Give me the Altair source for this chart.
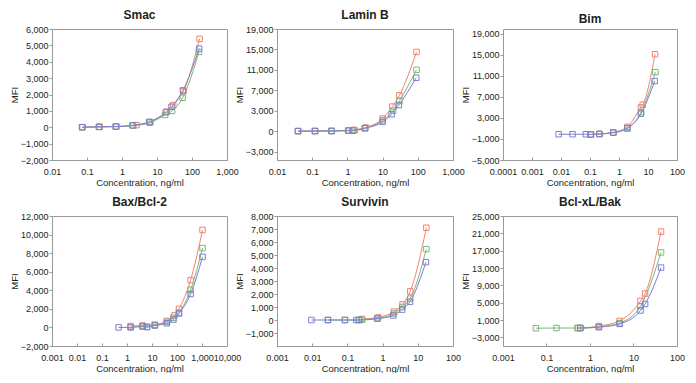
import json
import altair as alt
import pandas as pd

SERIES = ["lot1", "lot2", "lot3"]
COLORS = ["#F2826F", "#79B879", "#7D7DD4"]
FONT = "Liberation Sans"
TXT = "#231F20"
GRAY = "#9A9A9A"

# ---------------- Smac ----------------
smac_conc_red = [0.075, 0.23, 0.7, 2.6, 6.5, 19, 29, 57, 165]
smac_mfi_red = [10, 20, 50, 130, 310, 950, 1350, 2200, 5400]
smac_conc_green = [0.072, 0.22, 0.66, 2.1, 6.2, 17, 27, 54, 158]
smac_mfi_green = [0, 20, 40, 100, 280, 750, 1000, 1800, 4600]
smac_conc_blue = [0.073, 0.22, 0.66, 2.0, 6.0, 18, 26, 55, 160]
smac_mfi_blue = [0, 30, 40, 120, 330, 920, 1250, 2250, 4800]
smac_x_ticks = [0.01, 0.1, 1, 10, 100, 1000]
smac_x_labels = ["0.01", "0.1", "1", "10", "100", "1,000"]
smac_y_ticks = [-2000, -1000, 0, 1000, 2000, 3000, 4000, 5000, 6000]
smac_y_labels = ["\u22122,000", "\u22121,000", "0", "1,000", "2,000", "3,000", "4,000", "5,000", "6,000"]

# ---------------- Lamin B ----------------
lamin_conc_red = [0.04, 0.12, 0.36, 1.1, 1.5, 3.3, 10, 19, 30, 92]
lamin_mfi_red = [-1000, -990, -970, -880, -760, -300, 1450, 3800, 6000, 14500]
lamin_conc_green = [0.04, 0.12, 0.36, 1.1, 1.6, 3.2, 10, 20, 30, 92]
lamin_mfi_green = [-1000, -990, -975, -900, -850, -420, 1100, 3000, 4900, 11000]
lamin_conc_blue = [0.039, 0.12, 0.35, 1.05, 1.4, 3.1, 10, 18, 29, 90]
lamin_mfi_blue = [-1000, -985, -975, -900, -900, -450, 800, 2300, 4100, 9450]
lamin_x_ticks = [0.01, 0.1, 1, 10, 100, 1000]
lamin_x_labels = ["0.01", "0.1", "1", "10", "100", "1,000"]
lamin_y_ticks = [-5000, -1000, 3000, 7000, 11000, 15000, 19000]
lamin_y_labels = ["\u22123,000", "0", "3,000", "7,000", "11,000", "15,000", "19,000"]

# ---------------- Bim ----------------
bim_conc_red = [0.11, 0.21, 0.63, 1.95, 5.7, 6.6, 17.5]
bim_mfi_red = [-150, -50, 250, 1300, 5000, 5500, 15100]
bim_conc_green = [0.105, 0.21, 0.64, 1.95, 5.8, 18]
bim_mfi_green = [-150, -50, 200, 1050, 4100, 11700]
bim_conc_blue = [0.0083, 0.025, 0.072, 0.105, 0.21, 0.64, 1.95, 5.7, 17]
bim_mfi_blue = [-100, -100, -100, -150, -50, 200, 1000, 3800, 10000]
bim_x_ticks = [0.0001, 0.001, 0.01, 0.1, 1, 10, 100]
bim_x_labels = ["0.0001", "0.001", "0.01", "0.1", "1", "10", "100"]
bim_y_ticks = [-5000, -1000, 3000, 7000, 11000, 15000, 19000]
bim_y_labels = ["\u22125,000", "\u22121,000", "3,000", "7,000", "11,000", "15,000", "19,000"]

# ---------------- Bax/Bcl-2 ----------------
bax_conc_red = [1.4, 4.2, 13, 39, 80, 120, 350, 1050]
bax_mfi_red = [150, 200, 300, 700, 1300, 2000, 5100, 10500]
bax_conc_green = [1.4, 4.3, 6.3, 13, 40, 72, 120, 350, 1050]
bax_mfi_green = [50, 100, 50, 250, 600, 1050, 1600, 4050, 8550]
bax_conc_blue = [0.46, 1.4, 4.2, 6.3, 13, 39, 72, 120, 350, 1050]
bax_mfi_blue = [0, 0, 100, 50, 200, 450, 850, 1500, 3600, 7600]
bax_x_ticks = [0.001, 0.01, 0.1, 1, 10, 100, 1000, 10000]
bax_x_labels = ["0.001", "0.01", "0.1", "1", "10", "100", "1,000", "10,000"]
bax_y_ticks = [-2000, 0, 2000, 4000, 6000, 8000, 10000, 12000]
bax_y_labels = ["\u22122,000", "0", "2,000", "4,000", "6,000", "8,000", "10,000", "12,000"]

# ---------------- Survivin ----------------
surv_conc_red = [0.26, 0.75, 2.1, 3.7, 6.1, 17.5]
surv_mfi_red = [80, 200, 650, 1200, 2200, 7100]
surv_conc_green = [0.028, 0.085, 0.22, 0.26, 0.72, 2.1, 3.6, 6.1, 17.5]
surv_mfi_green = [0, 0, 0, 20, 120, 500, 1000, 1650, 5450]
surv_conc_blue = [0.0095, 0.028, 0.085, 0.18, 0.21, 0.7, 2.0, 3.6, 6.0, 17]
surv_mfi_blue = [0, 0, 0, 0, 0, 100, 350, 800, 1400, 4450]
surv_x_ticks = [0.001, 0.01, 0.1, 1, 10, 100]
surv_x_labels = ["0.001", "0.01", "0.1", "1", "10", "100"]
surv_y_ticks = [-1000, 0, 1000, 2000, 3000, 4000, 5000, 6000, 7000, 8000]
surv_y_labels = ["\u22121,000", "0", "1,000", "2,000", "3,000", "4,000", "5,000", "6,000", "7,000", "8,000"]

# ---------------- Bcl-xL/Bak ----------------
bcl_conc_red = [0.52, 0.6, 1.6, 4.8, 14.5, 18.5, 43]
bcl_mfi_red = [-850, -850, -400, 800, 5400, 7100, 21400]
bcl_conc_green = [0.057, 0.17, 0.52, 0.6, 1.6, 4.8, 14.5, 43]
bcl_mfi_green = [-900, -850, -850, -850, -600, 300, 4200, 16600]
bcl_conc_blue = [0.6, 1.6, 4.8, 14.5, 18.5, 43]
bcl_mfi_blue = [-850, -650, 100, 3200, 4700, 13100]
bcl_x_ticks = [0.01, 0.1, 1, 10, 100]
bcl_x_labels = ["0.001", "0.1", "1", "10", "100"]
bcl_y_ticks = [-3000, 1000, 5000, 9000, 13000, 17000, 21000, 25000]
bcl_y_labels = ["\u22123,000", "1,000", "5,000", "9,000", "13,000", "17,000", "21,000", "25,000"]


def label_expr(ticks, labels):
    return "%s[indexof(%s, datum.value)]" % (
        json.dumps(labels, ensure_ascii=False), json.dumps(ticks))


def panel(title, concs, mfis, x_domain, x_ticks, x_labels, y_domain, y_ticks, y_labels,
          width, height, title_offset=3):
    rows = []
    for name, cs, ms in zip(SERIES, concs, mfis):
        for c, m in zip(cs, ms):
            rows.append({"series": name, "conc": c, "mfi": m})
    df = pd.DataFrame(rows)
    xscale = alt.Scale(type="log", domain=x_domain, nice=False)
    yscale = alt.Scale(domain=y_domain, nice=False, zero=False)
    color = alt.Color("series:N", scale=alt.Scale(domain=SERIES, range=COLORS), legend=None)
    y_axis = alt.Axis(values=y_ticks, tickCount=len(y_ticks) + 2,
                      labelExpr=label_expr(y_ticks, y_labels), title="MFI",
                      grid=False, tickSize=3, labelPadding=1, titlePadding=1,
                      labelOverlap=False)
    x_main = alt.Axis(values=x_ticks, tickCount=len(x_ticks) + 2,
                      labelExpr=label_expr(x_ticks, x_labels),
                      title="Concentration, ng/ml", orient="bottom", grid=False,
                      ticks=False, tickSize=0, labelPadding=7, titlePadding=1,
                      labelFlush=False, labelOverlap=False)
    x_tick = alt.Axis(values=x_ticks, tickCount=len(x_ticks) + 2, labels=False,
                      domain=False, ticks=True, tickSize=3,
                      offset=-3, title=None, orient="bottom", grid=False)
    line = alt.Chart(df).mark_line(interpolate="monotone", strokeWidth=1).encode(
        x=alt.X("conc:Q", scale=xscale, axis=x_main),
        y=alt.Y("mfi:Q", scale=yscale, axis=y_axis),
        color=color,
    )
    pts = alt.Chart(df).mark_point(shape="square", filled=False, size=30, strokeWidth=1,
                                   opacity=1).encode(
        x=alt.X("conc:Q", scale=xscale, axis=x_tick),
        y=alt.Y("mfi:Q", scale=yscale, axis=y_axis),
        color=color,
    )
    return alt.layer(line, pts).resolve_axis(x="independent").properties(
        width=width, height=height,
        title=alt.TitleParams(text=title, fontSize=12, fontWeight="bold", font=FONT,
                              color=TXT, anchor="middle", offset=title_offset),
    )


smac = panel("Smac", [smac_conc_red, smac_conc_green, smac_conc_blue],
             [smac_mfi_red, smac_mfi_green, smac_mfi_blue],
             [0.01, 1000], smac_x_ticks, smac_x_labels,
             [-2000, 6000], smac_y_ticks, smac_y_labels, 175, 131)
lamin = panel("Lamin B", [lamin_conc_red, lamin_conc_green, lamin_conc_blue],
              [lamin_mfi_red, lamin_mfi_green, lamin_mfi_blue],
              [0.01, 1000], lamin_x_ticks, lamin_x_labels,
              [-6660, 19000], lamin_y_ticks, lamin_y_labels, 176, 131)
bim = panel("Bim", [bim_conc_red, bim_conc_green, bim_conc_blue],
            [bim_mfi_red, bim_mfi_green, bim_mfi_blue],
            [0.0001, 100], bim_x_ticks, bim_x_labels,
            [-5000, 19900], bim_y_ticks, bim_y_labels, 174, 131)
bax = panel("Bax/Bcl-2", [bax_conc_red, bax_conc_green, bax_conc_blue],
            [bax_mfi_red, bax_mfi_green, bax_mfi_blue],
            [0.001, 10000], bax_x_ticks, bax_x_labels,
            [-2000, 12000], bax_y_ticks, bax_y_labels, 175, 130)
surv = panel("Survivin", [surv_conc_red, surv_conc_green, surv_conc_blue],
             [surv_mfi_red, surv_mfi_green, surv_mfi_blue],
             [0.001, 100], surv_x_ticks, surv_x_labels,
             [-2000, 8000], surv_y_ticks, surv_y_labels, 176, 130)
bcl = panel("Bcl-xL/Bak", [bcl_conc_red, bcl_conc_green, bcl_conc_blue],
            [bcl_mfi_red, bcl_mfi_green, bcl_mfi_blue],
            [0.01, 100], bcl_x_ticks, bcl_x_labels,
            [-5000, 25000], bcl_y_ticks, bcl_y_labels, 174, 130)

chart = alt.concat(
    smac, lamin, bim, bax, surv, bcl,
    columns=3, spacing={"row": 56, "column": 50}, bounds="flush",
).properties(
    padding={"left": 0, "top": 0, "right": 0, "bottom": 0},
).configure_view(
    stroke=GRAY, strokeWidth=1
).configure_axis(
    labelFont=FONT, labelFontSize=9, labelColor=TXT,
    titleFont=FONT, titleFontSize=9.5, titleFontWeight="normal", titleColor=TXT,
    domainColor=GRAY, tickColor=GRAY, labelOverlap=False,
)

chart.save("out.html", embed_options={"renderer": "svg", "actions": False})
